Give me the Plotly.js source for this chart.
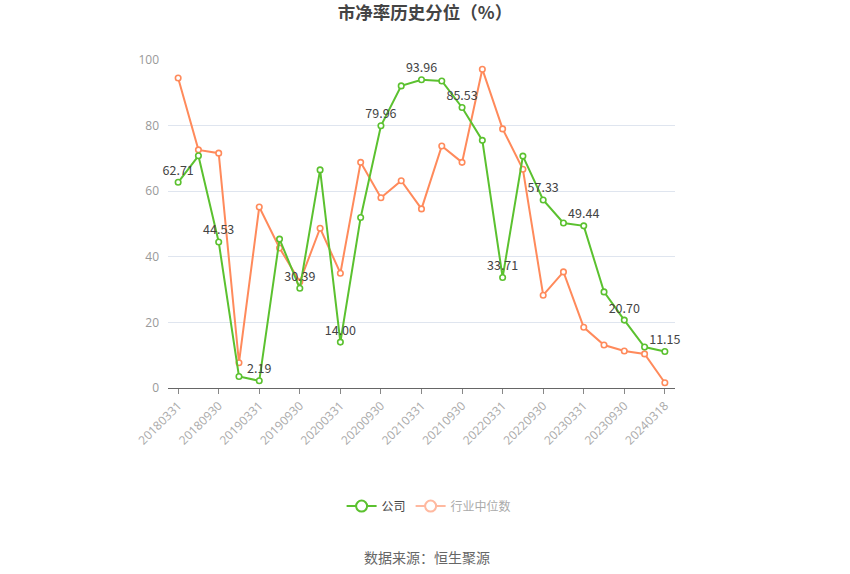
<!DOCTYPE html>
<html>
<head>
<meta charset="utf-8">
<script src="https://cdn.plot.ly/plotly-3.0.1.min.js"></script>
<style>html,body{margin:0;padding:0;background:#fff;}#chart{width:850px;height:574px;}</style>
</head>
<body>
<div id="chart"></div>
<script>
const dates = ['20180331','20180630','20180930','20181231','20190331','20190630','20190930','20191231',
  '20200331','20200630','20200930','20201231','20210331','20210630','20210930','20211231',
  '20220331','20220630','20220930','20221231','20230331','20230630','20230930','20231231','20240318'];
const company = [62.71,70.8,44.53,3.5,2.19,45.4,30.39,66.5,14.00,52.0,79.96,92.1,93.96,93.6,85.53,75.5,
  33.71,70.7,57.33,50.3,49.44,29.3,20.70,12.5,11.15];
const industry = [94.5,72.6,71.6,7.7,55.2,42.7,32.4,48.7,35.0,68.8,58.0,63.2,54.6,73.8,68.8,97.2,
  79.0,66.7,28.3,35.4,18.5,13.1,11.3,10.4,1.6];
const tickDates = dates.filter((d,i)=>i%2===0);

const green = '#5bc12f';
const orange = '#ff8a5b';

const labels = company.map((v,i)=> i%2===0 ? v.toFixed(2) : '');

const traces = [
  {x: dates, y: industry, type:'scatter', mode:'lines+markers', name:'行业中位数', showlegend:false,
   line:{color:orange, width:2}, marker:{symbol:'circle', size:5.5, color:'#fff', line:{width:1.6, color:orange}},
   hoverinfo:'skip'},
  {x: dates, y: company, type:'scatter', mode:'lines+markers+text', name:'公司', showlegend:false,
   line:{color:green, width:2}, marker:{symbol:'circle', size:5.5, color:'#fff', line:{width:1.6, color:green}},
   text: labels, textposition:'top center', textfont:{size:12.5, color:'#444'}, cliponaxis:false,
   hoverinfo:'skip'},
  {x:[null], y:[null], type:'scatter', mode:'lines+markers', name:'公司',
   line:{color:green, width:2}, marker:{symbol:'circle', size:11, color:'#fff', line:{width:2, color:green}}},
  {x:[null], y:[null], type:'scatter', mode:'lines+markers', name:'<span style="color:#aaa">行业中位数</span>',
   line:{color:'#ffb9a0', width:2}, marker:{symbol:'circle', size:11, color:'#fff', line:{width:2, color:'#ffb9a0'}}}
];

const layout = {
  width:850, height:574,
  margin:{l:168, r:175, t:60, b:186},
  paper_bgcolor:'#fff', plot_bgcolor:'#fff',
  font:{family:'"Noto Sans CJK SC", "Open Sans", sans-serif', color:'#333'},
  title:{text:'<b>市净率历史分位（%）</b>', x:0.5, xanchor:'center', y:0.977, yanchor:'middle',
    font:{size:17.5, color:'#444'}},
  xaxis:{type:'category', range:[-0.5,24.5], tickmode:'array', tickvals:tickDates, ticktext:tickDates,
    tickangle:-45, ticks:'outside', ticklen:5, tickcolor:'#888', showline:true, linecolor:'#666', linewidth:1,
    showgrid:false, zeroline:false, tickfont:{size:12, color:'#aaa', family:'"Open Sans", sans-serif'}},
  yaxis:{range:[0,100], dtick:20, showgrid:true, gridcolor:'#dfe5ef', gridwidth:1, zeroline:false,
    showline:false, ticks:'', tickfont:{size:12, color:'#999', family:'"Open Sans", sans-serif'}, ticklabelstandoff:8},
  showlegend:true,
  legend:{orientation:'h', x:0.515, xanchor:'center', y:-0.36, yanchor:'middle',
    font:{size:12, color:'#444'}, itemwidth:30},
  annotations:[{text:'数据来源：恒生聚源', xref:'paper', yref:'paper', x:0.51, xanchor:'center',
    y:-0.515, yanchor:'middle', showarrow:false, font:{size:14, color:'#666'}}]
};

Plotly.newPlot('chart', traces, layout, {displayModeBar:false, staticPlot:true});
</script>
</body>
</html>
